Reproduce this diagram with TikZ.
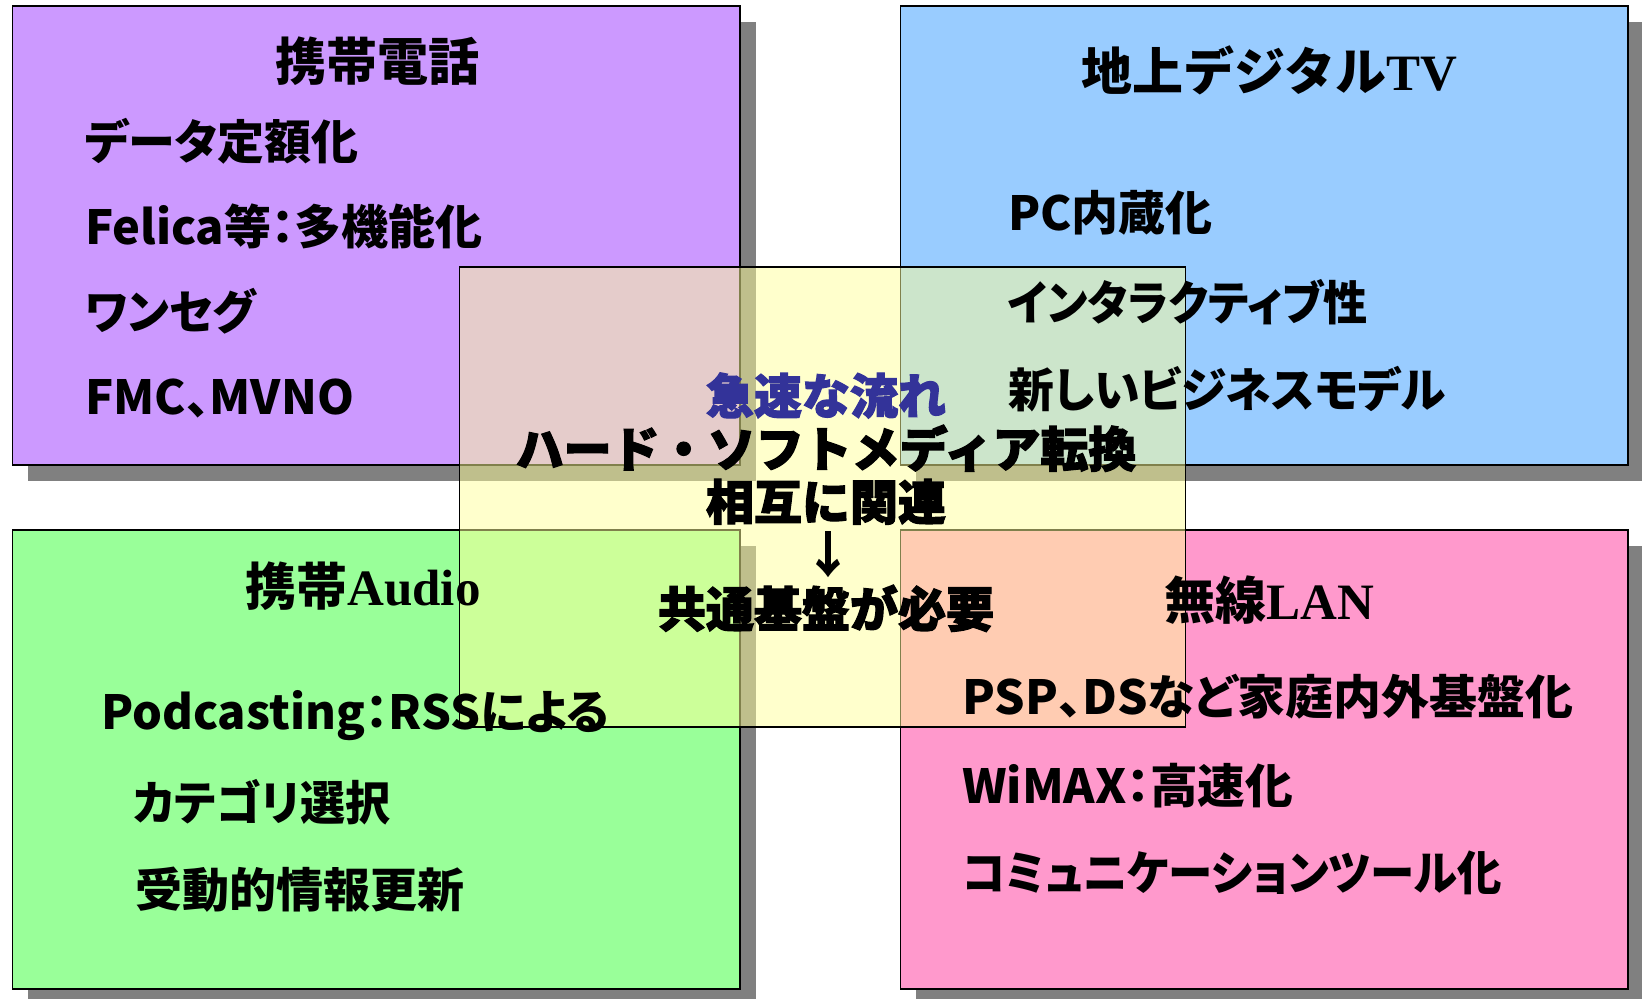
\documentclass[tikz,border=0pt]{standalone}
\usepackage{fontspec}
\usetikzlibrary{shadows}
\newfontfamily\jpP{Noto Sans CJK JP}[RawFeature=+palt]
\newfontfamily\jpF{Noto Sans CJK JP}
\newfontfamily\jpPop{Noto Sans CJK JP}[BoldFeatures={FakeBold=2.5}]
\newfontfamily\serifL{Liberation Serif}
\definecolor{purp}{HTML}{CC99FF}
\definecolor{bluebox}{HTML}{99CCFF}
\definecolor{greenbox}{HTML}{99FF99}
\definecolor{pinkbox}{HTML}{FF99CC}
\definecolor{yellowbox}{HTML}{FFFF99}
\definecolor{shadowgray}{HTML}{808080}
\definecolor{navytext}{HTML}{333399}
\tikzset{
  quadbox/.style={draw=black, line width=1.5pt, minimum width=727.5pt, minimum height=459pt,
    anchor=north west, inner sep=0pt,
    drop shadow={shadow xshift=16pt, shadow yshift=-16pt, opacity=1, fill=shadowgray}},
  centerbox/.style={draw=black, line width=1.5pt, fill=yellowbox, fill opacity=0.5, draw opacity=1,
    minimum width=726pt, minimum height=460pt, anchor=north west, inner sep=0pt},
  bodytxt/.style={anchor=base west, inner sep=0pt, font=\jpP\bfseries\fontsize{47}{47}\selectfont},
  titletxt/.style={anchor=base, inner sep=0pt, font=\jpF\bfseries\fontsize{51}{51}\selectfont},
  poptxt/.style={anchor=base, inner sep=0pt, font=\jpPop\bfseries\fontsize{48}{48}\selectfont},
}
\newcommand{\lat}[1]{{\serifL\bfseries #1}}
\newcommand{\hs}[2]{\scalebox{#1}[1]{#2}}
\begin{document}
\begin{tikzpicture}[x=1pt,y=-1pt]
\useasboundingbox (0,0) rectangle (1642,999);
% quadrant boxes
\node[quadbox, fill=purp] (phone) at (11.5,5) {};
\node[quadbox, fill=bluebox] (tv) at (899.5,5) {};
\node[quadbox, fill=greenbox] (audio) at (11.5,529) {};
\node[quadbox, fill=pinkbox] (lan) at (899.5,529) {};
% centre overlay
\node[centerbox] (centre) at (458.5,266) {};
% phone texts
\node[titletxt] (t1) at (377,80) {携帯電話};
\node[bodytxt] (p1) at (85,159) {データ定額化};
\node[bodytxt] (p2) at (85,244) {Felica等：多機能化};
\node[bodytxt] (p3) at (85,329) {\hs{0.97}{ワンセグ}};
\node[bodytxt] (p4) at (85,414) {FMC、MVNO};
% tv texts
\node[titletxt] (t2) at (1269,90) {地上デジタル\lat{TV}};
\node[bodytxt] (v1) at (1008,230) {PC内蔵化};
\node[bodytxt] (v2) at (1008,320) {\hs{0.94}{インタラクティブ性}};
\node[bodytxt] (v3) at (1008,407) {\hs{0.975}{新しいビジネスモデル}};
% audio texts
\node[titletxt] (t3) at (363,605) {携帯\lat{Audio}};
\node[bodytxt] (a1) at (101,729) {Podcasting：RSSによる};
\node[bodytxt] (a2) at (133,820) {\hs{0.96}{カテゴリ選択}};
\node[bodytxt] (a3) at (135,907) {受動的情報更新};
% lan texts
\node[titletxt] (t4) at (1269,619) {無線\lat{LAN}};
\node[bodytxt] (l1) at (962,714) {\hs{1.02}{PSP、DSなど家庭内外基盤化}};
\node[bodytxt] (l2) at (962,803) {\hs{1.015}{WiMAX：高速化}};
\node[bodytxt] (l3) at (962,890) {\hs{0.945}{コミュニケーションツール化}};
% centre texts
\node[poptxt, text=navytext] (c1) at (826,414) {急速な流れ};
\node[poptxt] (c2) at (826,467) {ハード・ソフトメディア転換};
\node[poptxt] (c3) at (826,520) {相互に関連};
\node[anchor=base, inner sep=0pt, font=\jpF\bfseries\fontsize{50}{50}\selectfont] (c4) at (828,573) {↓};
\node[poptxt] (c5) at (826,627) {共通基盤が必要};
\end{tikzpicture}
\end{document}
